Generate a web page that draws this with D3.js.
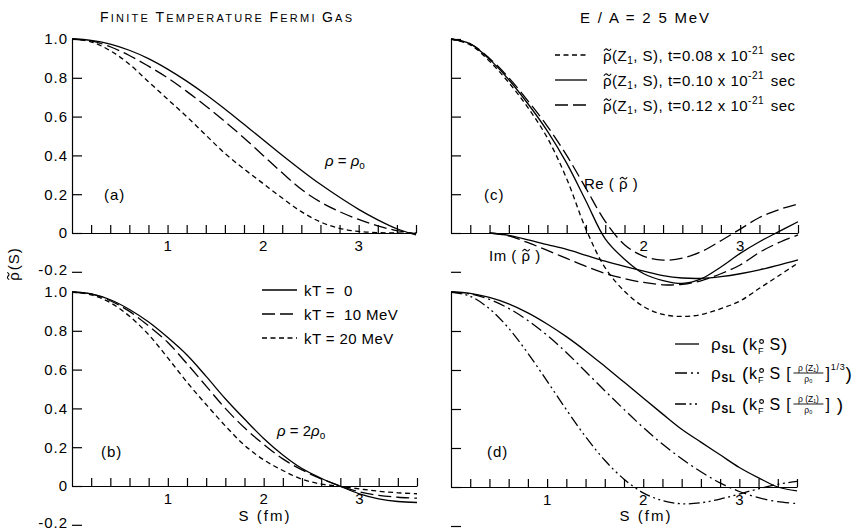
<!DOCTYPE html>
<html>
<head>
<meta charset="utf-8">
<script src="https://cdn.jsdelivr.net/npm/d3@7"></script>
<style>
  body { margin: 0; background: #fff; }
  svg text { font-family: "Liberation Sans", Arial, sans-serif; fill: #000; }
</style>
</head>
<body>
<svg id="chart" width="864" height="531"></svg>
<script>
// Separation S (fm) at which every curve is sampled
const sValues = [0, 0.2, 0.4, 0.6, 0.8, 1.0, 1.2, 1.4, 1.6, 1.8, 2.0, 2.2, 2.4, 2.6, 2.8, 3.0, 3.2, 3.4, 3.6];

// (a) rho = rho0, finite temperature Fermi gas
const aKT0  = [1, 0.993, 0.974, 0.942, 0.899, 0.845, 0.783, 0.714, 0.639, 0.560, 0.481, 0.401, 0.324, 0.251, 0.184, 0.122, 0.068, 0.022, -0.010];
const aKT10 = [1, 0.990, 0.960, 0.915, 0.860, 0.800, 0.730, 0.655, 0.575, 0.490, 0.400, 0.310, 0.225, 0.160, 0.110, 0.070, 0.037, 0.012, -0.003];
const aKT20 = [1, 0.985, 0.940, 0.870, 0.780, 0.690, 0.600, 0.505, 0.410, 0.330, 0.255, 0.180, 0.110, 0.057, 0.024, 0.008, 0.002, 0.000, 0.000];

// (b) rho = 2 rho0
const bKT0  = [1, 0.990, 0.960, 0.910, 0.845, 0.765, 0.675, 0.565, 0.450, 0.345, 0.245, 0.160, 0.090, 0.040, -0.002, -0.040, -0.066, -0.080, -0.085];
const bKT10 = [1, 0.990, 0.955, 0.900, 0.825, 0.740, 0.630, 0.515, 0.400, 0.300, 0.215, 0.140, 0.083, 0.037, 0.000, -0.030, -0.048, -0.058, -0.063];
const bKT20 = [1, 0.985, 0.945, 0.875, 0.780, 0.660, 0.535, 0.420, 0.310, 0.210, 0.135, 0.080, 0.035, 0.010, -0.002, -0.015, -0.027, -0.035, -0.040];

// (c) rho~(Z1,S) at E/A = 25 MeV: real parts for three times, imaginary parts for two
const cRe08 = [1, 0.970, 0.885, 0.775, 0.645, 0.490, 0.280, 0.020, -0.180, -0.300, -0.380, -0.420, -0.430, -0.420, -0.390, -0.350, -0.285, -0.220, -0.155];
const cRe10 = [1, 0.975, 0.895, 0.790, 0.665, 0.525, 0.360, 0.165, -0.030, -0.135, -0.210, -0.245, -0.260, -0.235, -0.175, -0.105, -0.045, 0.007, 0.058];
const cRe12 = [1, 0.975, 0.900, 0.800, 0.680, 0.550, 0.400, 0.230, 0.060, -0.060, -0.120, -0.140, -0.130, -0.095, -0.040, 0.020, 0.080, 0.120, 0.150];
const cIm10 = [null, null, 0, -0.012, -0.035, -0.060, -0.085, -0.115, -0.145, -0.172, -0.197, -0.220, -0.232, -0.234, -0.225, -0.210, -0.190, -0.165, -0.138];
const cIm12 = [null, null, 0, -0.015, -0.050, -0.090, -0.131, -0.172, -0.208, -0.235, -0.255, -0.267, -0.265, -0.245, -0.210, -0.165, -0.100, -0.050, -0.010];

// (d) Slater functions with scaled Fermi momentum
const dSL     = [1, 0.993, 0.972, 0.939, 0.893, 0.836, 0.771, 0.698, 0.619, 0.538, 0.456, 0.375, 0.296, 0.230, 0.165, 0.100, 0.047, 0.000, -0.020];
const dSLcube = [1, 0.990, 0.962, 0.916, 0.854, 0.778, 0.690, 0.592, 0.494, 0.398, 0.305, 0.220, 0.145, 0.078, 0.021, -0.023, -0.055, -0.075, -0.085];
const dSLlin  = [1, 0.978, 0.914, 0.814, 0.686, 0.543, 0.397, 0.258, 0.137, 0.040, -0.030, -0.070, -0.086, -0.081, -0.062, -0.036, -0.009, 0.014, 0.029];

// Axis ticks
const yTickValues = [1.0, 0.8, 0.6, 0.4, 0.2, 0, -0.2];
const yTickLabels = ["1.0", "0.8", "0.6", "0.4", "0.2", "0", "-0.2"];
const xTickValues = d3.range(1, 19).map(i => +(i * 0.2).toFixed(1));
const xTickLabels = ["1", "2", "3"];

const kTLegend = ["kT =  0", "kT =  10 MeV", "kT = 20 MeV"];
const timeLegend = ["0.08", "0.10", "0.12"];

const DASH = {
  solid: null,
  short: "5,3.5",
  long: "13,5",
  dashdot: "12,4,2,4",
  dashdotdot: "11,3.5,2,3.5,2,3.5"
};

const svg = d3.select("#chart");
svg.append("rect").attr("width", 864).attr("height", 531).attr("fill", "#fff");

const panels = [
  { x0: 72,  x1: 416, yOne: 39,  yZero: 233, yLabels: true,  xLabels: ["1", "2", "3"],
    series: [[aKT0, "solid"], [aKT10, "long"], [aKT20, "short"]] },
  { x0: 72,  x1: 417, yOne: 292, yZero: 486, yLabels: true,  xLabels: ["1", "2", "3"],
    series: [[bKT0, "solid"], [bKT10, "long"], [bKT20, "short"]] },
  { x0: 451, x1: 798, yOne: 39,  yZero: 233, yLabels: false, xLabels: ["2", "3"],
    series: [[cRe08, "short"], [cRe10, "solid"], [cRe12, "long"], [cIm10, "solid"], [cIm12, "long"]] },
  { x0: 451, x1: 797, yOne: 292, yZero: 487, yLabels: false, xLabels: ["1", "2", "3"],
    series: [[dSL, "solid"], [dSLcube, "dashdot"], [dSLlin, "dashdotdot"]] }
];

function styleAxis(g) {
  g.attr("font-family", null).attr("font-size", null);
  g.selectAll("path, line").attr("stroke", "#000").attr("stroke-width", 1.2);
  g.selectAll("text").attr("font-size", 15).attr("letter-spacing", 1);
}

panels.forEach(p => {
  const x = d3.scaleLinear().domain([0, 3.6]).range([p.x0, p.x1]);
  const y = d3.scaleLinear().domain([0, 1]).range([p.yZero, p.yOne]);

  const yAxis = d3.axisLeft(y)
    .tickValues(yTickValues)
    .tickSize(-10).tickSizeOuter(0).tickPadding(4)
    .tickFormat((d, i) => p.yLabels ? yTickLabels[i] : "");
  const gy = svg.append("g").attr("transform", `translate(${p.x0},0)`).call(yAxis).call(styleAxis);
  // keep the lowest label clear of the bottom edge
  gy.selectAll(".tick text").filter(d => d < 0).attr("dy", "0.2em");

  const xAxis = d3.axisBottom(x)
    .tickValues(xTickValues)
    .tickSize(-8).tickSizeOuter(0).tickPadding(7)
    .tickFormat(d => {
      const lbl = String(Math.round(d));
      return Math.abs(d - Math.round(d)) < 1e-6 && p.xLabels.includes(lbl) && xTickLabels.includes(lbl) ? lbl : "";
    });
  svg.append("g").attr("transform", `translate(0,${p.yZero})`).call(xAxis).call(styleAxis);

  const line = d3.line()
    .defined(d => d[1] !== null)
    .x(d => x(d[0]))
    .y(d => y(d[1]))
    .curve(d3.curveCatmullRom.alpha(0.5));

  p.series.forEach(([vals, dash]) => {
    const pts = sValues.map((s, i) => [s, vals[i]]);
    svg.append("path")
      .datum(pts)
      .attr("d", line)
      .attr("fill", "none")
      .attr("stroke", "#000")
      .attr("stroke-width", 1.3)
      .attr("stroke-dasharray", DASH[dash]);
  });
});

// One <text> built from tspans inside its own group; "shift" is the offset
// from the baseline. Parts flagged with a mark get a tilde or a degree ring
// drawn as a small path over their first character.
function rich(parent, x, y, parts, opts = {}) {
  const g = parent.append("g");
  if (opts.transform) g.attr("transform", opts.transform);
  const t = g.append("text").attr("x", x).attr("y", y)
    .attr("font-size", opts.size || 15);
  if (opts.ls !== undefined) t.attr("letter-spacing", opts.ls);
  if (opts.anchor) t.attr("text-anchor", opts.anchor);
  let cur = 0, idx = 0;
  const marks = [];
  parts.forEach(p => {
    const sp = t.append("tspan").text(p.t);
    const sh = p.shift || 0;
    if (sh !== cur) { sp.attr("dy", sh - cur); cur = sh; }
    if (p.dx) sp.attr("dx", p.dx);
    if (p.size) sp.attr("font-size", p.size);
    if (p.weight) sp.attr("font-weight", p.weight);
    if (p.italic) sp.attr("font-style", "italic");
    if (p.ls !== undefined) sp.attr("letter-spacing", p.ls);
    if (p.mark) marks.push({ kind: p.mark, idx, size: p.size || opts.size || 15 });
    idx += p.t.length;
  });
  const node = t.node();
  marks.forEach(m => {
    const a = node.getStartPositionOfChar(m.idx);
    const b = node.getEndPositionOfChar(m.idx);
    const cx = (a.x + b.x) / 2;
    if (m.kind === "tilde") {
      const ty = a.y - m.size * 0.72;
      const w = m.size * 0.24;
      g.append("path")
        .attr("d", `M${cx - w},${ty + 1} Q${cx - w / 2},${ty - 2} ${cx},${ty} T${cx + w},${ty - 1}`)
        .attr("fill", "none").attr("stroke", "#000").attr("stroke-width", 1.1);
    } else if (m.kind === "deg") {
      g.append("circle").attr("cx", cx + 0.5).attr("cy", a.y - 12)
        .attr("r", 1.9).attr("fill", "none").attr("stroke", "#000").attr("stroke-width", 1.1);
    }
  });
  return t;
}

function legendLine(x1, x2, yy, dash) {
  svg.append("line").attr("x1", x1).attr("x2", x2).attr("y1", yy).attr("y2", yy)
    .attr("stroke", "#000").attr("stroke-width", 1.3)
    .attr("stroke-dasharray", DASH[dash]);
}

// Titles (small caps)
const t1 = svg.append("text").attr("x", 100).attr("y", 22)
  .attr("textLength", 252).attr("lengthAdjust", "spacing");
[["F", 14], ["INITE ", 11], ["T", 14], ["EMPERATURE ", 11], ["F", 14], ["ERMI ", 11], ["G", 14], ["AS", 11]]
  .forEach(([s, fs]) => t1.append("tspan").attr("font-size", fs).text(s));

svg.append("text").attr("x", 580).attr("y", 23)
  .attr("textLength", 129).attr("lengthAdjust", "spacing")
  .attr("font-size", 15).text("E / A = 2 5 MeV");

// y-axis title
rich(svg, 0, 0, [{ t: "\u03C1", mark: "tilde" }, { t: "(S)", dx: 1 }],
  { anchor: "middle", ls: 1, transform: "translate(19,264) rotate(-90)" });

// x-axis titles
[265, 646].forEach(cx => {
  svg.append("text").attr("x", cx).attr("y", 521).attr("text-anchor", "middle")
    .attr("font-size", 15).attr("letter-spacing", 2).text("S (fm)");
});

// panel tags
[["(a)", 104, 200], ["(b)", 101, 457], ["(c)", 484, 200], ["(d)", 487, 457]].forEach(([s, xx, yy]) => {
  svg.append("text").attr("x", xx).attr("y", yy).attr("font-size", 15).attr("letter-spacing", 1).text(s);
});

// density annotations
rich(svg, 325, 166, [{ t: "\u03C1", italic: true }, { t: " = " }, { t: "\u03C1", italic: true }, { t: "o", size: 10, shift: 3 }]);
rich(svg, 277, 436, [{ t: "\u03C1", italic: true }, { t: " = 2" }, { t: "\u03C1", italic: true }, { t: "o", size: 10, shift: 3 }]);

rich(svg, 584, 189, [{ t: "Re ( " }, { t: "\u03C1", mark: "tilde" }, { t: " )" }], { ls: 0.5 });
rich(svg, 489, 261, [{ t: "Im ( " }, { t: "\u03C1", mark: "tilde" }, { t: " )" }], { ls: 0.5 });

// legend (b): temperatures
const kTStyles = ["solid", "long", "short"];
[290, 314, 338].forEach((yy, i) => {
  legendLine(262, 297, yy, kTStyles[i]);
  svg.append("text").attr("x", 304).attr("y", yy + 5.5).attr("font-size", 15)
    .attr("letter-spacing", 0.4).style("white-space", "pre")
    .text(kTLegend[i]);
});

// legend (c): times
const tStyles = ["short", "solid", "long"];
[55, 80, 105].forEach((yy, i) => {
  legendLine(555, 587, yy, tStyles[i]);
  rich(svg, 603, yy + 5.5, [
    { t: "\u03C1", mark: "tilde" },
    { t: "(Z" },
    { t: "1", size: 10, shift: 3 },
    { t: ", S), t=" + timeLegend[i] + " x 10" },
    { t: "-21", size: 10, shift: -7 },
    { t: " sec", dx: 2 }
  ], { ls: 0.5 });
});

// legend (d): Slater functions
const dRows = [344, 373, 404];
legendLine(675, 699, dRows[0], "solid");
legendLine(675, 699, dRows[1], "dashdot");
legendLine(675, 699, dRows[2], "dashdotdot");

function slParts(open) {
  return [
    { t: "\u03C1", size: 17 },
    { t: "SL", size: 10, shift: 3, weight: "bold" },
    { t: " (", size: 19, shift: 1 },
    { t: "k", size: 16 },
    { t: "F", size: 9, shift: 4, mark: "deg" },
    { t: "  S" + open, size: 16 }
  ];
}
function rightEdge(sel) {
  const b = sel.node().getBBox();
  return b.x + b.width;
}
function fraction(x0, base, w) {
  svg.append("text").attr("x", x0 + w / 2).attr("y", base - 8)
    .attr("text-anchor", "middle").attr("font-size", 8.5).text("\u03C1 (Z\u2081)");
  svg.append("line").attr("x1", x0).attr("x2", x0 + w)
    .attr("y1", base - 5.5).attr("y2", base - 5.5)
    .attr("stroke", "#000").attr("stroke-width", 0.9);
  svg.append("text").attr("x", x0 + w / 2).attr("y", base + 3.5)
    .attr("text-anchor", "middle").attr("font-size", 8.5).text("\u03C1\u2080");
}

rich(svg, 711, dRows[0] + 5.5, slParts("").concat([{ t: ")", size: 19, shift: 1 }]), { ls: 0.8 });

[[dRows[1], true], [dRows[2], false]].forEach(([row, cube]) => {
  const base = row + 5.5;
  const head = rich(svg, 711, base, slParts(" ["), { ls: 0.8 });
  const fx = rightEdge(head) + 2;
  const fw = 30;
  fraction(fx, base, fw);
  const tail = cube
    ? [{ t: "]", size: 16 }, { t: "1/3", size: 9, shift: -9 }, { t: ")", size: 19, shift: 1 }]
    : [{ t: "]", size: 16 }, { t: " )", size: 19, shift: 1 }];
  rich(svg, fx + fw + 2, base, tail, { ls: 0.8 });
});
</script>
</body>
</html>
